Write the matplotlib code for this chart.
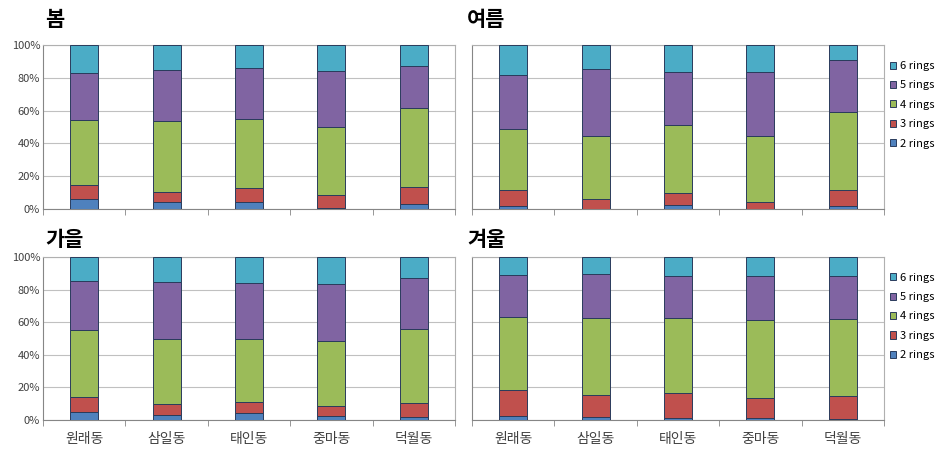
import matplotlib
matplotlib.use("Agg")
import matplotlib.pyplot as plt
import numpy as np

plt.rcParams['font.family'] = ['Noto Sans CJK KR', 'DejaVu Sans']

categories = ['원래동', '삼일동', '태인동', '중마동', '덕월동']
seasons = ['봄', '여름', '가을', '겨울']
series_names = ['2 rings', '3 rings', '4 rings', '5 rings', '6 rings']
colors = ['#4F81BD', '#C0504D', '#9BBB59', '#8064A2', '#4BACC6']

spring = [
    [5.9, 4.1, 4.3, 0.6, 3.0],
    [8.5, 6.3, 8.3, 8.1, 10.6],
    [39.9, 43.5, 42.1, 41.3, 48.2],
    [28.6, 31.1, 31.1, 33.9, 25.6],
    [17.1, 15.0, 14.2, 16.1, 12.6],
]
summer = [
    [1.6, 0.2, 2.5, 0.2, 2.0],
    [9.7, 6.2, 7.3, 4.3, 9.7],
    [37.5, 38.1, 41.2, 40.0, 47.3],
    [33.0, 41.0, 32.8, 38.9, 31.6],
    [18.2, 14.5, 16.2, 16.6, 9.4],
]
autumn = [
    [5.1, 2.9, 4.1, 2.2, 1.8],
    [9.0, 6.7, 6.7, 6.4, 8.4],
    [41.2, 40.0, 39.0, 40.0, 45.5],
    [30.0, 35.1, 34.1, 34.7, 31.4],
    [14.7, 15.3, 16.1, 16.7, 12.9],
]
winter = [
    [2.7, 2.0, 1.2, 1.4, 0.8],
    [15.5, 13.5, 15.1, 12.1, 13.7],
    [45.1, 47.2, 46.1, 47.7, 47.5],
    [25.7, 26.7, 26.2, 27.0, 26.4],
    [11.0, 10.6, 11.4, 11.8, 11.6],
]
yticks = [0, 20, 40, 60, 80, 100]
ytick_labels = ['0%', '20%', '40%', '60%', '80%', '100%']

data = [spring, summer, autumn, winter]

fig = plt.figure(figsize=(9.45, 4.54), dpi=100)
W, H = 945, 454
boxes = [
    (43, 45, 412, 164),
    (472, 45, 412, 164),
    (43, 257, 412, 163),
    (472, 257, 412, 163),
]
title_x = [45, 467, 45, 467]
title_y = [20, 20, 240, 240]

for i, (season, vals) in enumerate(zip(seasons, data)):
    x0, y0, w, h = boxes[i]
    ax = fig.add_axes([x0 / W, (H - y0 - h) / H, w / W, h / H])
    arr = np.array(vals, dtype=float)
    tot = arr.sum(axis=0)
    arr = arr / tot * 100
    x = np.arange(len(categories))
    bottom = np.zeros(len(categories))
    handles = []
    for k in range(len(series_names)):
        b = ax.bar(x, arr[k], 0.34, bottom=bottom, color=colors[k],
                   edgecolor='#2a3b5c', linewidth=0.7, label=series_names[k], zorder=3)
        handles.append(b)
        bottom += arr[k]
    ax.set_xlim(-0.5, 4.5)
    ax.set_ylim(0, 100)
    ax.set_yticks(yticks)
    ax.grid(axis='y', color='#c0c0c0', linewidth=0.8, zorder=0)
    ax.set_axisbelow(True)
    for s in ax.spines.values():
        s.set_color('#b0b0b0')
        s.set_linewidth(0.8)
    ax.spines['bottom'].set_color('#868686')
    ax.spines['left'].set_color('#868686')
    ax.set_xticks(x)
    ax.set_xticks(np.arange(-0.5, 5.0, 1.0), minor=True)
    ax.tick_params(axis='x', which='major', length=0, pad=9)
    ax.tick_params(axis='x', which='minor', length=4, color='#868686', direction='out')
    ax.tick_params(axis='y', length=0, labelsize=8, pad=2, colors='#404040')
    if i in (0, 2):
        ax.set_yticklabels(ytick_labels)
    else:
        ax.set_yticklabels([])
    if i in (2, 3):
        ax.set_xticklabels(categories, fontsize=10, color='#404040')
    else:
        ax.set_xticklabels([])
    fig.text(title_x[i] / W, 1 - title_y[i] / H, season, fontsize=15,
             fontweight='bold', ha='left', va='center')
    if i in (1, 3):
        ax.legend(handles[::-1], series_names[::-1], loc='center left',
                  bbox_to_anchor=(0.995, 0.635), frameon=False, fontsize=8,
                  handlelength=0.6, handleheight=0.6, handletextpad=0.35,
                  labelspacing=0.85, borderpad=0.2)

fig.savefig('out.png', dpi=100)
